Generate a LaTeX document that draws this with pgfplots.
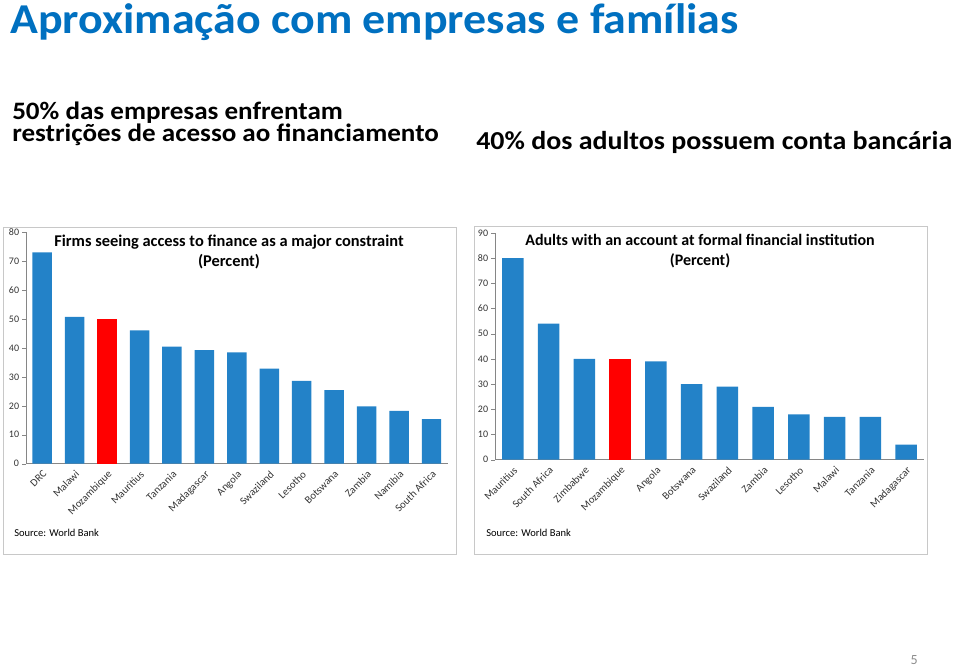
\documentclass[border=0pt]{standalone}
\usepackage{pgfplots}
\pgfplotsset{compat=1.18}
\usepackage{fontspec}
\setmainfont{Carlito}
\definecolor{barblue}{RGB}{35,130,200}
\definecolor{titleblue}{RGB}{0,112,192}
\definecolor{axgray}{RGB}{134,134,134}
\definecolor{framegray}{RGB}{200,200,200}
\newcommand{\PX}[2]{({#1*0.75pt},{-#2*0.75pt})}
\pgfplotsset{
  mybars/.style={
    scale only axis,
    axis x line=bottom, axis y line=left,
    axis line style={axgray,-},
    ymin=0,
    ytick distance=10,
    tick align=outside,
    major tick length=3pt,
    xtick style={draw=none},
    minor tick length=3pt,
    minor tick style={axgray},
    ytick style={axgray},
    /pgf/number format/assume math mode=true,
    ticklabel style={font=\fontsize{7.5pt}{9pt}\selectfont, text=black!80},
    xticklabel style={rotate=45, anchor=north east, inner sep=1pt, font=\fontsize{8pt}{9pt}\selectfont},
    yticklabel style={inner sep=2pt},
    clip=false,
  },
  bluebar/.style={ybar, bar width=0.6, bar shift=0pt, fill=barblue, draw=none},
  redbar/.style={ybar, bar width=0.6, bar shift=0pt, fill=red, draw=none},
}
\begin{document}
\begin{tikzpicture}
\path[use as bounding box] (0,0) rectangle (720pt,-500.25pt);
% titles
\node[anchor=base west, inner sep=0, text=titleblue, font=\bfseries\fontsize{31.9pt}{34pt}\selectfont] at \PX{10}{34} {\scalebox{1.08}[1]{Aproximação com empresas e famílias}};
\node[anchor=base west, inner sep=0, font=\bfseries\fontsize{18.8pt}{20pt}\selectfont] at \PX{12}{119} {\scalebox{1.08}[1]{50\% das empresas enfrentam}};
\node[anchor=base west, inner sep=0, font=\bfseries\fontsize{18.8pt}{20pt}\selectfont] at \PX{12}{142} {\scalebox{1.08}[1]{restrições de acesso ao financiamento}};
\node[anchor=base west, inner sep=0, font=\bfseries\fontsize{19.4pt}{20pt}\selectfont] at \PX{476}{149} {\scalebox{1.08}[1]{40\% dos adultos possuem conta bancária}};
\node[anchor=base east, inner sep=0, text=black!45, font=\fontsize{10.5pt}{12pt}\selectfont] at \PX{918}{664} {5};
% frames
\draw[framegray, line width=0.6pt] \PX{3}{227} rectangle \PX{456}{554};
\draw[framegray, line width=0.6pt] \PX{474}{226} rectangle \PX{927}{554};
% left chart
\begin{axis}[mybars, at={(19.5pt,-347.775pt)}, anchor=south west,
  width={421.7*0.75pt}, height={231.4*0.75pt},
  xmin=-0.5, xmax=12.5, ymax=80,
  xtick={0,...,12},
  minor xtick={-0.5,0.5,...,12.5},
  xticklabels={DRC,Malawi,Mozambique,Mauritius,Tanzania,Madagascar,Angola,Swaziland,Lesotho,Botswana,Zambia,Namibia,South Africa},
]
\addplot[bluebar] coordinates {(0,73.1) (1,50.8) (3,46.1) (4,40.5) (5,39.3) (6,38.5) (7,32.9) (8,28.6) (9,25.4) (10,19.8) (11,18.3) (12,15.4)};
\addplot[redbar] coordinates {(2,50)};
\end{axis}
\node[align=center, font=\bfseries\fontsize{12.3pt}{15pt}\selectfont] at \PX{229}{252} {Firms seeing access to finance as a major constraint\\(Percent)};
\node[anchor=base west, inner sep=0, font=\fontsize{7.9pt}{9pt}\selectfont] at \PX{14}{536} {Source: World Bank};
% right chart
\begin{axis}[mybars, at={(371.25pt,-344.775pt)}, anchor=south west,
  width={429*0.75pt}, height={226.7*0.75pt},
  xmin=-0.5, xmax=11.5, ymax=90,
  xtick={0,...,11},
  minor xtick={-0.5,0.5,...,11.5},
  xticklabels={Mauritius,South Africa,Zimbabwe,Mozambique,Angola,Botswana,Swaziland,Zambia,Lesotho,Malawi,Tanzania,Madagascar},
]
\addplot[bluebar] coordinates {(0,80) (1,54) (2,40) (4,39) (5,30) (6,29) (7,21) (8,18) (9,17) (10,17) (11,6)};
\addplot[redbar] coordinates {(3,40)};
\end{axis}
\node[align=center, font=\bfseries\fontsize{12pt}{15pt}\selectfont] at \PX{700}{251} {Adults with an account at formal financial institution\\(Percent)};
\node[anchor=base west, inner sep=0, font=\fontsize{7.9pt}{9pt}\selectfont] at \PX{486}{536} {Source: World Bank};
\end{tikzpicture}
\end{document}
